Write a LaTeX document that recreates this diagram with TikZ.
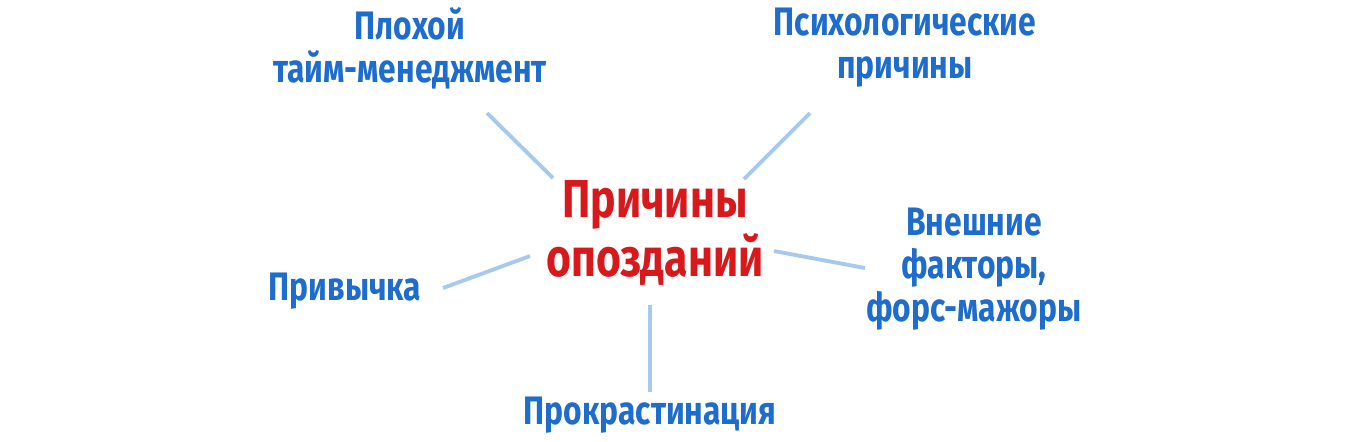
\documentclass[tikz,border=0pt]{standalone}
\usepackage{fontspec}
\setmainfont{Fira Sans}[FakeStretch=0.8]
\usepackage{xcolor}
\usetikzlibrary{positioning}

\definecolor{causered}{HTML}{D7191C}
\definecolor{causeblue}{HTML}{1E6CCB}
\definecolor{linkblue}{HTML}{A6CAEE}

\begin{document}
\begin{tikzpicture}[
  x=0.01cm,y=-0.01cm,
  hub/.style={align=center,font=\fontsize{15.2}{14.4}\selectfont\bfseries,text=causered,inner sep=0pt},
  cause/.style={align=center,font=\fontsize{11.3}{12.2}\selectfont\bfseries,text=causeblue,inner sep=0pt},
  link/.style={draw=linkblue,line width=1.1pt}
]
\useasboundingbox (0,0) rectangle (1352,441);

\node[hub] (hub) at (655,233) {Причины\\опозданий};
\node[cause] (plan) at (410,48) {Плохой\\тайм-менеджмент};
\node[cause] (psych) at (905,48) {Психологические\\причины};
\node[cause] (ext) at (974,269) {Внешние\\факторы,\\форс-мажоры};
\node[cause] (habit) at (345,291) {Привычка};
\node[cause] (procr) at (650,415) {Прокрастинация};

\draw[link] ([shift={(-102,-55)}]hub.center) -- ([shift={(77,65)}]plan.center);
\draw[link] ([shift={(89,-54)}]hub.center) -- ([shift={(-95,65)}]psych.center);
\draw[link] ([shift={(119,18)}]hub.center) -- ([shift={(-109,-1)}]ext.center);
\draw[link] ([shift={(-125,23)}]hub.center) -- ([shift={(98,-3)}]habit.center);
\draw[link] ([shift={(-5,72)}]hub.center) -- ([shift={(0,-23)}]procr.center);

\end{tikzpicture}
\end{document}
